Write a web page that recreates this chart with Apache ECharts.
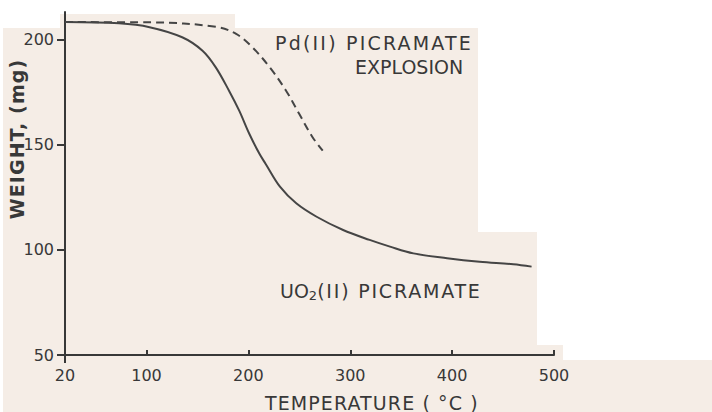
<!DOCTYPE html>
<html>
<head>
<meta charset="utf-8">
<script src="https://cdn.jsdelivr.net/npm/echarts@6/dist/echarts.min.js"></script>
<style>
html, body { margin: 0; padding: 0; background: #fff; }
#chart { width: 712px; height: 412px; }
</style>
</head>
<body>
<div id="chart"></div>
<script>
// UO2(II) picramate, solid curve
const uo2Temp = [20, 73, 103, 135, 155, 168, 181, 191, 201, 211, 217, 231, 247, 267, 293, 319, 339, 362, 395, 427, 460, 478]
const uo2Weight = [208.2, 207.6, 205.8, 201.0, 194.6, 186.7, 175.6, 166.1, 155.0, 145.5, 140.8, 130.0, 122.1, 115.7, 109.4, 104.7, 101.5, 98.3, 96.0, 94.3, 93.1, 92.0]

// Pd(II) picramate, dashed curve (ends at explosion)
const pdTemp = [20, 103, 168, 188, 204, 221, 237, 250, 263, 273]
const pdWeight = [208.2, 208.1, 206.0, 202.6, 196.2, 186.7, 175.6, 164.5, 153.5, 147.1]

const xTickLabels = [20, 100, 200, 300, 400, 500]
const xTicks = [100, 200, 300, 400, 500]
const yTickLabels = [50, 100, 150, 200]

const ink = '#383838'
const paper = '#f5ede6'
const font = 'DejaVu Sans'

const chart = echarts.init(document.getElementById('chart'), null, { renderer: 'svg' })

const pair = (xs, ys) => xs.map((x, i) => [x, ys[i]])

const bg = (x, y, w, h) => ({
  type: 'rect', z: -10, silent: true,
  shape: { x, y, width: w, height: h },
  style: { fill: paper }
})

chart.setOption({
  backgroundColor: '#fff',
  animation: false,
  grid: [
    { left: 65, right: 158, top: 12, bottom: 57 },
    { left: 65, right: 158, top: 12, bottom: 57 }
  ],
  xAxis: [
    {
      type: 'value', gridIndex: 0, min: 20, max: 500,
      axisLine: { lineStyle: { color: ink, width: 2 } },
      axisTick: { inside: true, length: 5, customValues: xTicks, lineStyle: { color: ink, width: 2 } },
      axisLabel: { customValues: xTickLabels, margin: 12, color: ink, fontFamily: font, fontSize: 16 },
      splitLine: { show: false }
    },
    {
      type: 'value', gridIndex: 1, min: 20, max: 500,
      axisLine: { show: false },
      axisTick: { inside: false, length: 8, customValues: [20], lineStyle: { color: ink, width: 2 } },
      axisLabel: { show: false },
      splitLine: { show: false }
    }
  ],
  yAxis: [
    {
      type: 'value', gridIndex: 0, min: 50, max: 213,
      axisLine: { show: true, lineStyle: { color: ink, width: 2 } },
      axisTick: { show: true, length: 8, customValues: yTickLabels, lineStyle: { color: ink, width: 2 } },
      axisLabel: { customValues: yTickLabels, margin: 11, color: ink, fontFamily: font, fontSize: 16 },
      splitLine: { show: false }
    },
    {
      type: 'value', gridIndex: 1, min: 50, max: 213,
      axisLine: { show: false }, axisTick: { show: false },
      axisLabel: { show: false }, splitLine: { show: false }
    }
  ],
  series: [
    {
      name: 'UO2(II) PICRAMATE', type: 'line',
      data: pair(uo2Temp, uo2Weight),
      smooth: 0.35, symbol: 'none',
      lineStyle: { color: '#454545', width: 2 }
    },
    {
      name: 'Pd(II) PICRAMATE', type: 'line',
      data: pair(pdTemp, pdWeight),
      smooth: 0.35, symbol: 'none',
      lineStyle: { color: '#454545', width: 2, type: [8, 5] }
    }
  ],
  graphic: [
    bg(3, 28, 475, 384),
    bg(60, 14, 175, 14),
    bg(478, 232, 59, 180),
    bg(537, 345, 26, 67),
    bg(563, 360, 149, 52),
    {
      type: 'text', left: 275, top: 33,
      style: { text: 'Pd(II) PICRAMATE', font: '19px "DejaVu Sans"', fill: ink }
    },
    {
      type: 'text', left: 355, top: 57,
      style: { text: 'EXPLOSION', font: '19px "DejaVu Sans"', fill: ink }
    },
    {
      type: 'text', left: 280, top: 281,
      style: {
        text: '{a|UO}{s|2}{a|(II) PICRAMATE}',
        fill: ink,
        rich: {
          a: { fontFamily: font, fontSize: 19, color: ink },
          s: { fontFamily: font, fontSize: 13, color: ink, padding: [10, 0, 0, 0] }
        }
      }
    },
    {
      type: 'text', left: 265, top: 393,
      style: { text: 'TEMPERATURE ( °C )', font: '19px "DejaVu Sans"', fill: ink }
    },
    {
      type: 'text', x: 17, y: 139, rotation: Math.PI / 2,
      style: {
        text: 'WEIGHT, (mg)', font: 'bold 19px "DejaVu Sans"', fill: ink,
        textAlign: 'center', textVerticalAlign: 'middle', align: 'center', verticalAlign: 'middle'
      }
    }
  ]
})

// the lettering on the original is widely spaced
const spacing = {
  'Pd(II) PICRAMATE': 2.2,
  '(II) PICRAMATE': 1.8,
  'TEMPERATURE ( °C )': 1.1,
  'WEIGHT, (mg)': 1.1
}
document.querySelectorAll('#chart text').forEach(el => {
  const s = spacing[el.textContent]
  if (s) el.style.letterSpacing = s + 'px'
})
</script>
</body>
</html>
